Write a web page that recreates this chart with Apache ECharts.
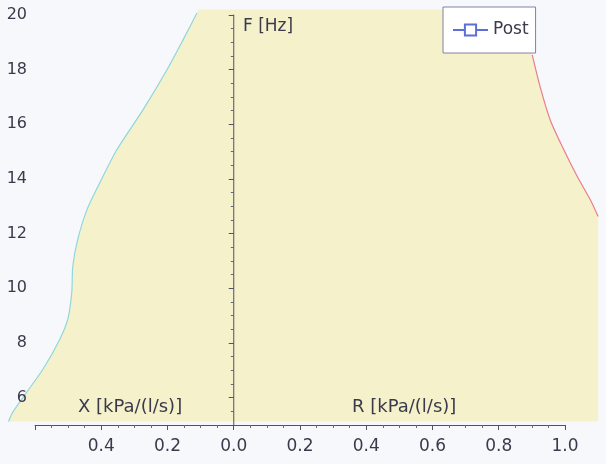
<!DOCTYPE html>
<html>
<head>
<meta charset="utf-8">
<script src="https://cdn.jsdelivr.net/npm/echarts@6/dist/echarts.min.js"></script>
<style>
html,body{margin:0;padding:0;background:#f7f8fb;}
#c{width:606px;height:464px;}
</style>
</head>
<body>
<div id="c"></div>
<script>
// Left boundary (reactance X, plotted to the left as negative values) of the shaded normal range
var leftF = [5.13, 5.47, 6.20, 7.04, 8.14, 8.87, 9.85, 10.80, 11.79, 12.88, 13.87, 15.07, 16.53, 17.99, 19.09, 20.07, 20.2];
var leftX = [-0.68, -0.667, -0.625, -0.576, -0.525, -0.501, -0.489, -0.486, -0.471, -0.443, -0.404, -0.353, -0.274, -0.202, -0.153, -0.111, -0.105];
// Right boundary (resistance R) of the shaded normal range
var rightF = [20.2, 18.54, 17.37, 16.17, 15.18, 14.09, 13.25, 12.63];
var rightX = [0.893, 0.901, 0.925, 0.955, 0.992, 1.037, 1.076, 1.100];
// Right edge of the shaded area below the red curve
var edgeF = [12.63, 5.13];
var edgeX = [1.100, 1.100];
// Measured series (no points visible)
var postData = [];

var chart = echarts.init(document.getElementById('c'));
var FONT = 'DejaVu Sans';
var TXT = '#3a3a4c';
chart.setOption({
  backgroundColor: '#f7f8fb',
  animation: false,
  grid: { left: 35, right: 41, top: 15, bottom: 39 },
  legend: {
    data: ['Post'],
    left: 443, top: 7,
    padding: [13, 7, 13, 9],
    itemWidth: 35, itemHeight: 14,
    backgroundColor: '#ffffff',
    borderColor: '#7c84a4', borderWidth: 1, borderRadius: 0,
    textStyle: { fontFamily: FONT, fontSize: 17, color: TXT, lineHeight: 20 }
  },
  xAxis: {
    type: 'value', min: -0.6, max: 1.0, interval: 0.2,
    splitLine: { show: false },
    axisLine: { onZero: false, lineStyle: { color: '#505165', width: 1 } },
    axisTick: { show: true, length: 5, lineStyle: { color: '#505165' } },
    minorTick: { show: true, splitNumber: 4, length: 3, lineStyle: { color: '#66677a' } },
    axisLabel: {
      margin: 13, fontFamily: FONT, fontSize: 17, color: TXT,
      formatter: function(v){ if (v < -0.5) return ''; return Math.abs(v).toFixed(1); }
    }
  },
  yAxis: {
    type: 'value', min: 5, max: 20, splitNumber: 7,
    splitLine: { show: false },
    axisLine: { onZero: true, lineStyle: { color: '#505165', width: 1 } },
    axisTick: { show: true, length: 5, lineStyle: { color: '#505165' } },
    minorTick: { show: true, splitNumber: 4, length: 3, lineStyle: { color: '#66677a' } },
    axisLabel: {
      margin: 8, fontFamily: FONT, fontSize: 16, color: TXT, showMinLabel: false,
      formatter: function(v){ return (v % 2 === 0) ? String(v) : ''; }
    }
  },
  graphic: [
    { type: 'text', left: 243, top: 18, style: { text: 'F [Hz]', font: '17px "DejaVu Sans"', fill: TXT } },
    { type: 'text', left: 78, top: 398, style: { text: 'X [kPa/(l/s)]', font: '18px "DejaVu Sans"', fill: TXT } },
    { type: 'text', left: 352, top: 398, style: { text: 'R [kPa/(l/s)]', font: '18px "DejaVu Sans"', fill: TXT } }
  ],
  series: [
    {
      type: 'custom', name: 'range', z: -1, clip: false, silent: true,
      data: [0],
      renderItem: function(params, api){
        var poly = [], lp = [], rp = [];
        leftX.forEach(function(x,i){ var p = api.coord([x, leftF[i]]); poly.push(p); if (i < leftX.length - 1) lp.push(p); });
        rightX.forEach(function(x,i){ var p = api.coord([x, rightF[i]]); poly.push(p); if (i > 0) rp.push(p); });
        edgeX.forEach(function(x,i){ poly.push(api.coord([x, edgeF[i]])); });
        return {
          type: 'group',
          children: [
            { type: 'polygon', shape: { points: poly }, style: { fill: '#f5f2cb' } },
            { type: 'polyline', shape: { points: lp, smooth: 0.25 }, style: { stroke: '#8fd6df', lineWidth: 1.2, fill: null } },
            { type: 'polyline', shape: { points: rp, smooth: 0.25 }, style: { stroke: '#ea7d8e', lineWidth: 1.2, fill: null } }
          ]
        };
      }
    },
    {
      type: 'line', name: 'Post', data: postData,
      color: '#5b6fd6',
      symbol: 'rect', symbolSize: 10,
      itemStyle: { color: '#ffffff', borderColor: '#5b6fd6', borderWidth: 1 },
      lineStyle: { color: '#5b6fd6', width: 1 }
    }
  ]
});
</script>
</body>
</html>
